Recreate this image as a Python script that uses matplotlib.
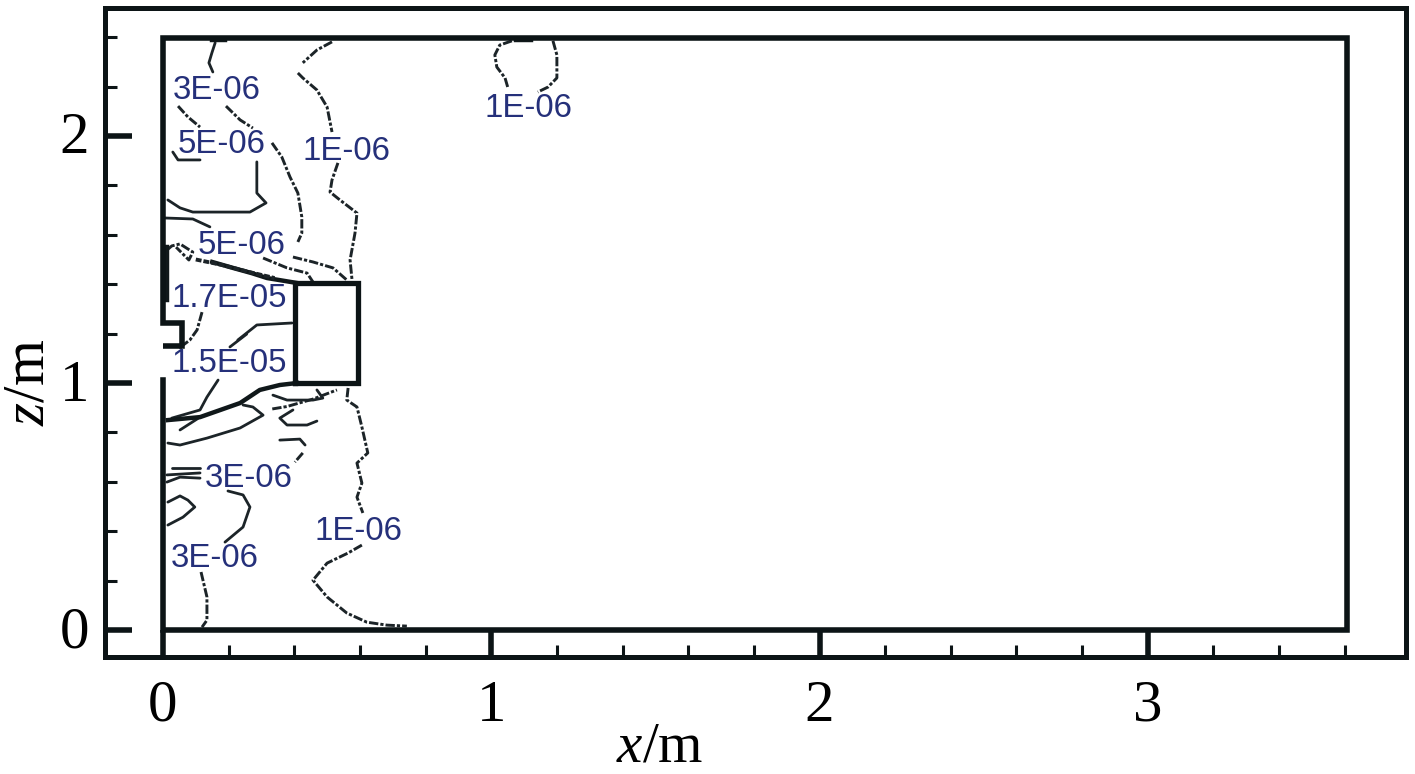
import matplotlib
matplotlib.use("Agg")
from matplotlib import pyplot as plt
from matplotlib.transforms import ScaledTranslation

plt.rcParams['font.family'] = ['Liberation Serif']
plt.rcParams['mathtext.fontset'] = 'custom'
plt.rcParams['mathtext.it'] = 'Liberation Serif:italic'
plt.rcParams['mathtext.rm'] = 'Liberation Serif'

x_major = [0, 1, 2, 3]
x_minor = [0.2, 0.4, 0.6, 0.8, 1.2, 1.4, 1.6, 1.8, 2.2, 2.4, 2.6, 2.8, 3.2, 3.4, 3.6]
z_major = [0, 1, 2]
z_minor = [0.2, 0.4, 0.6, 0.8, 1.2, 1.4, 1.6, 1.8, 2.2, 2.4]

# room outline with the inlet / outlet openings on the left wall
wall_upper_x = [0.058, 0.058, 0, 0, 3.607, 3.607, 0, 0]
wall_upper_z = [1.150, 1.243, 1.243, 2.397, 2.397, 0, 0, 1.012]
bar_x = [0, 0.058]
bar_z = [1.150, 1.150]
# obstacle
box_x = [0.402, 0.594, 0.594, 0.402, 0.402]
box_z = [1.0, 1.0, 1.405, 1.405, 1.0]

# contour lines, (x, z) in m
solid_lines = [
    ([0.159, 0.149, 0.140, 0.152], [2.377, 2.336, 2.296, 2.259]),
    ([0.030, 0.046, 0.113], [1.935, 1.903, 1.903]),
    ([0.286, 0.286, 0.314, 0.265, 0.091, 0.052, 0.015], [1.895, 1.769, 1.729, 1.692, 1.692, 1.709, 1.741]),
    ([0.006, 0.091, 0.143], [1.668, 1.664, 1.632]),
    ([0.228, 0.286, 0.393], [1.174, 1.235, 1.243]),
    ([0.204, 0.255], [1.146, 1.198]),
    ([0.015, 0.052, 0.134, 0.235, 0.305, 0.274, 0.244], [0.757, 0.749, 0.777, 0.818, 0.870, 0.903, 0.911]),
    ([0.012, 0.113], [0.628, 0.636]),
    ([0.027, 0.113], [0.656, 0.656]),
    ([0.012, 0.052, 0.113], [0.599, 0.619, 0.615]),
    ([0.198, 0.244, 0.265, 0.244, 0.189], [0.563, 0.547, 0.498, 0.417, 0.356]),
    ([0.015, 0.052, 0.076, 0.097, 0.061, 0.015], [0.518, 0.543, 0.526, 0.498, 0.457, 0.425]),
    ([0.356, 0.417, 0.433], [0.769, 0.773, 0.749]),
    ([0.396, 0.356, 0.378, 0.439, 0.469], [0.891, 0.858, 0.830, 0.830, 0.846]),
    ([0.335, 0.378, 0.457, 0.487, 0.469], [0.951, 0.931, 0.931, 0.939, 0.972]),
    ([0.027, 0.113, 0.134, 0.168], [0.858, 0.891, 0.943, 1.012]),
    ([0.052, 0.113], [0.810, 0.862]),
]
dashed_lines = [
    ([0.046, 0.076, 0.113], [2.121, 2.077, 2.036]),
    ([0.192, 0.235, 0.274], [2.121, 2.065, 2.032]),
    ([0.332, 0.362, 0.387, 0.411, 0.423, 0.423, 0.411], [1.972, 1.915, 1.834, 1.769, 1.672, 1.607, 1.571]),
    ([0.515, 0.469, 0.426], [2.381, 2.348, 2.296]),
    ([0.411, 0.426, 0.469, 0.500, 0.515], [2.255, 2.235, 2.186, 2.117, 2.016]),
    ([0.533, 0.515, 0.509, 0.539, 0.591, 0.585, 0.570, 0.576], [1.891, 1.822, 1.773, 1.741, 1.688, 1.607, 1.498, 1.417]),
    ([0.396, 0.457, 0.518, 0.560], [1.510, 1.490, 1.466, 1.417]),
    ([0.305, 0.378, 0.439, 0.457], [1.506, 1.466, 1.445, 1.409]),
    ([1.063, 1.026, 1.011, 1.017, 1.042, 1.051], [2.385, 2.368, 2.328, 2.279, 2.235, 2.194]),
    ([1.188, 1.200, 1.200, 1.173, 1.142], [2.385, 2.328, 2.235, 2.198, 2.178]),
    ([0.564, 0.560, 0.591, 0.606, 0.624, 0.591, 0.606, 0.591, 0.609], [0.980, 0.931, 0.903, 0.822, 0.717, 0.676, 0.595, 0.538, 0.474]),
    ([0.606, 0.564, 0.500, 0.457, 0.500, 0.560, 0.621, 0.682, 0.743], [0.344, 0.312, 0.271, 0.202, 0.134, 0.069, 0.032, 0.020, 0.016]),
    ([0.116, 0.134, 0.134, 0.119], [0.235, 0.134, 0.040, 0.012]),
    ([0.426, 0.402], [0.717, 0.680]),
    ([0.119, 0.104, 0.082, 0.058], [1.287, 1.215, 1.174, 1.150]),
    ([0.012, 0.027, 0.052, 0.091, 0.079, 0.055, 0.040], [1.538, 1.555, 1.563, 1.530, 1.498, 1.530, 1.550]),
    ([0.333, 0.378, 0.457, 0.530], [0.895, 0.905, 0.935, 0.972]),
]
# crowded lines just above and below the obstacle
thick_lines = [
    ([0.015, 0.113, 0.235, 0.295, 0.356, 0.408], [0.850, 0.862, 0.919, 0.972, 0.992, 1.0]),
    ([0.150, 0.213, 0.270, 0.317, 0.408], [1.490, 1.466, 1.445, 1.425, 1.405]),
    ([0.012, 0.012], [1.335, 1.550]),
    ([0.150, 0.190], [2.390, 2.390]),
    ([1.075, 1.120], [2.390, 2.390]),
]
band_x = [0.100, 0.180, 0.260, 0.340]
band_z = [1.500, 1.478, 1.450, 1.425]

# contour labels: text, x, z
label_text = ["3E-06", "5E-06", "1E-06", "1E-06", "5E-06", "1.7E-05", "1.5E-05", "3E-06", "1E-06", "3E-06"]
label_x = [0.030, 0.046, 0.426, 0.978, 0.107, 0.027, 0.027, 0.128, 0.463, 0.024]
label_z = [2.186, 1.964, 1.939, 2.113, 1.555, 1.344, 1.077, 0.615, 0.401, 0.288]

fig = plt.figure(figsize=(14.15, 7.74), dpi=100)
ax = fig.add_axes([105.5 / 1415, 1 - 657 / 774, 1300 / 1415, 649 / 774])
ax.set_xlim(-0.175, 3.785)
ax.set_ylim(-0.109, 2.518)

for lx, lz in solid_lines:
    ax.plot(lx, lz, color="#1c2428", lw=2.0, solid_capstyle="round")
for lx, lz in dashed_lines:
    ax.plot(lx, lz, color="#1c2428", lw=2.1, ls=(0, (3.2, 0.7, 1.1, 0.7)))
for lx, lz in thick_lines:
    ax.plot(lx, lz, color="#10181a", lw=3.2)
ax.plot(band_x, band_z, color="#1c2428", lw=2.8, ls=(0, (1.5, 0.5)))

ax.plot(wall_upper_x, wall_upper_z, color="#0c1416", lw=4.0, solid_joinstyle="miter")
ax.plot(bar_x, bar_z, color="#0c1416", lw=4.0, solid_capstyle="butt")
ax.plot(box_x, box_z, color="#0c1416", lw=3.8, solid_joinstyle="miter")

for t, lx, lz in zip(label_text, label_x, label_z):
    ax.text(lx, lz, t, color="#25307a", fontsize=23.8, family="Liberation Sans",
            ha="left", va="center")

ax.set_xticks(x_major)
ax.set_xticks(x_minor, minor=True)
ax.set_yticks(z_major)
ax.set_yticks(z_minor, minor=True)
ax.tick_params(which="major", direction="in", length=19.5, width=4.0, color="#0c1416",
               labelsize=42.5, labelcolor="black")
ax.tick_params(which="minor", direction="in", length=8.6, width=2.2, color="#0c1416")
ax.tick_params(axis="x", which="major", pad=16.5)
ax.tick_params(axis="y", which="major", pad=12)
# the z labels sit a little higher than the ticks
for lab in ax.get_yticklabels():
    lab.set_transform(lab.get_transform() + ScaledTranslation(0, 3 / 100, fig.dpi_scale_trans))
for s in ax.spines.values():
    s.set_linewidth(3.6)
    s.set_color("#0c1416")

fig.text(660 / 1415, 1 - 747 / 774, r"$\mathit{x}$/m", fontsize=41, ha="center", va="center")
fig.text(30 / 1415, 1 - 382 / 774, r"$\mathit{z}$/m", fontsize=42.5, ha="center", va="center", rotation=90)

fig.savefig("out.png", dpi=100)
